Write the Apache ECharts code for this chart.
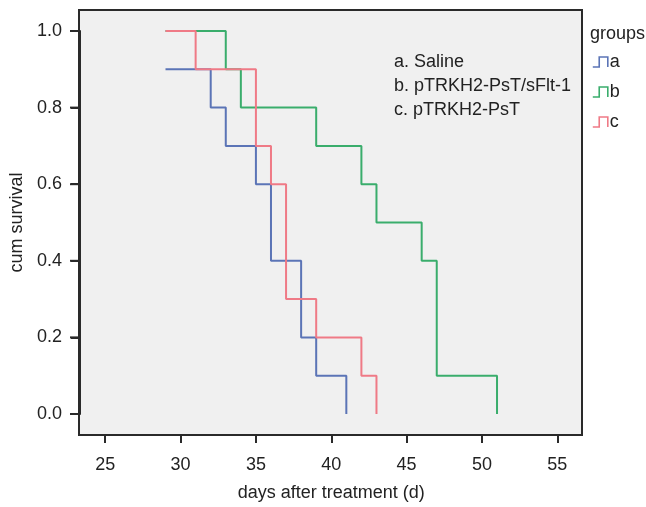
<!DOCTYPE html>
<html>
<head>
<meta charset="utf-8">
<script src="https://cdn.jsdelivr.net/npm/echarts@6/dist/echarts.min.js"></script>
<style>
html,body{margin:0;padding:0;background:#fff;}
#chart{width:646px;height:507px;}
</style>
</head>
<body>
<div id="chart"></div>
<script>
// ---- data ----
const groupNames = ['a', 'b', 'c'];
const groupLabels = ['a. Saline', 'b. pTRKH2-PsT/sFlt-1', 'c. pTRKH2-PsT'];
const daysA = [29, 32, 33, 35, 36, 38, 39, 41];
const survA = [0.9, 0.8, 0.7, 0.6, 0.4, 0.2, 0.1, 0.0];
const daysB = [29, 33, 34, 39, 42, 43, 46, 47, 51];
const survB = [1.0, 0.9, 0.8, 0.7, 0.6, 0.5, 0.4, 0.1, 0.0];
const daysC = [29, 31, 35, 36, 37, 39, 42, 43];
const survC = [1.0, 0.9, 0.7, 0.6, 0.3, 0.2, 0.1, 0.0];
const xTicks = [25, 30, 35, 40, 45, 50, 55];
const yTicks = [0.0, 0.2, 0.4, 0.6, 0.8, 1.0];

const colors = ['#5b74b6', '#3aad6c', '#ef7a86'];
const FONT = "'Liberation Sans', Arial, Helvetica, sans-serif";
const TXT = '#222';
const DARK = '#2a2a2a';

function pairs(xs, ys) { return xs.map((x, i) => [x, ys[i]]); }
const seriesData = [pairs(daysA, survA), pairs(daysB, survB), pairs(daysC, survC)];

const yMin = yTicks[0], yMax = yTicks[yTicks.length - 1];

const notesGraphic = {
  id: 'notes', type: 'text', left: 394, top: 50,
  style: {
    text: groupLabels.join('\n'),
    font: "18px " + FONT, fill: TXT, lineHeight: 24
  }
};

const chart = echarts.init(document.getElementById('chart'), null, {renderer: 'canvas'});
chart.setOption({
  animation: false,
  backgroundColor: '#fff',
  textStyle: {fontFamily: FONT},
  title: {
    text: 'groups', left: 590, top: 25, padding: 0,
    textStyle: {fontFamily: FONT, fontSize: 18, fontWeight: 'normal', color: TXT}
  },
  legend: {
    orient: 'vertical', left: 592, top: 53, padding: 0,
    itemWidth: 15, itemHeight: 10, itemGap: 12, symbolKeepAspect: false,
    icon: 'path://M0,10 L6,10 L6,0 L14,0 L14,10',
    textStyle: {fontFamily: FONT, fontSize: 18, color: TXT, padding: [0, 0, 0, -3]},
    data: groupNames.map((n, i) => ({
      name: n,
      itemStyle: {color: 'rgba(0,0,0,0)', borderColor: colors[i], borderWidth: 1.6}
    }))
  },
  graphic: [notesGraphic],
  grid: [
    { // frame
      left: 79, right: 64, top: 10, bottom: 72,
      show: true, backgroundColor: '#f0f0f0', borderColor: DARK, borderWidth: 2
    },
    { // data area: x 25..55, y 0..1
      left: 104.3, right: 88.7, top: 31, bottom: 92, show: false
    }
  ],
  xAxis: [
    {gridIndex: 0, type: 'value', show: false, min: 0, max: 1},
    {
      gridIndex: 1, type: 'value', min: xTicks[0], max: xTicks[xTicks.length - 1], interval: 5,
      position: 'bottom', offset: 22,
      name: 'days after treatment (d)', nameLocation: 'middle', nameGap: 48,
      nameTextStyle: {fontFamily: FONT, fontSize: 18, color: TXT},
      axisLine: {show: false, onZero: false},
      axisTick: {show: true, length: 7, lineStyle: {color: DARK, width: 2}},
      axisLabel: {fontSize: 18, color: TXT, margin: 20, fontFamily: FONT},
      splitLine: {show: false}
    }
  ],
  yAxis: [
    {gridIndex: 0, type: 'value', show: false, min: 0, max: 1},
    {
      gridIndex: 1, type: 'value', min: yMin, max: yMax, interval: 0.2,
      position: 'left', offset: 25.3,
      name: 'cum survival', nameLocation: 'middle', nameGap: 53, nameRotate: 90,
      nameTextStyle: {fontFamily: FONT, fontSize: 18, color: TXT},
      axisLine: {show: true, onZero: false, lineStyle: {color: DARK, width: 2}},
      axisTick: {show: true, length: 9, lineStyle: {color: DARK, width: 2}},
      axisLabel: {fontSize: 18, color: TXT, margin: 18, fontFamily: FONT,
        formatter: v => Number(v).toFixed(1)},
      splitLine: {show: true, lineStyle: {color: 'rgba(0,0,0,0)'}}
    }
  ],
  series: groupNames.map((n, i) => ({
    name: n, type: 'line', step: 'end', showSymbol: false, symbol: 'none',
    xAxisIndex: 1, yAxisIndex: 1,
    data: seriesData[i],
    itemStyle: {color: colors[i]},
    lineStyle: {color: colors[i], width: 2},
    z: 2 + i
  }))
});

// y-axis tick marks placed through the chart's own y scale (left of the frame)
const frameLeft = chart.convertToPixel({xAxisIndex: 0}, 0);
const tickGraphics = yTicks.map((v, i) => {
  const y = chart.convertToPixel({yAxisIndex: 1}, v);
  return {
    id: 'ytick' + i, type: 'line', z: 10,
    shape: {x1: frameLeft - 9, y1: y, x2: frameLeft, y2: y},
    style: {stroke: DARK, lineWidth: 2}
  };
});
chart.setOption({graphic: [notesGraphic].concat(tickGraphics)});
</script>
</body>
</html>
